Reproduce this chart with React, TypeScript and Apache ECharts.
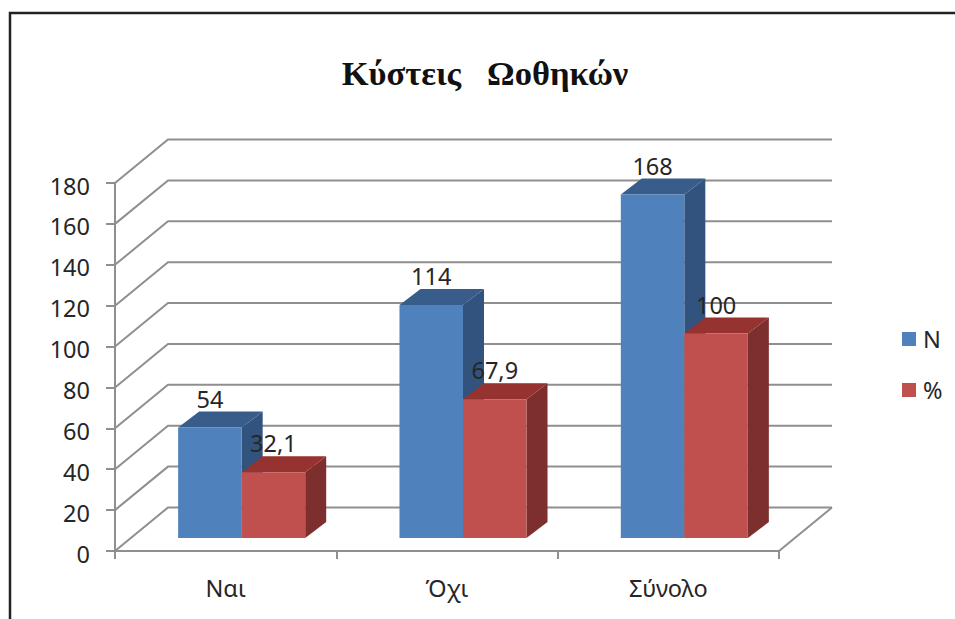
import React, { useEffect, useRef } from "react";
import * as echarts from "echarts";

const categories = ["Ναι", "Όχι", "Σύνολο"];
const nValues = [54, 114, 168];
const pctValues = [32.1, 67.9, 100];
const yTicks = [0, 20, 40, 60, 80, 100, 120, 140, 160, 180];
const seriesNames = ["N", "%"];
const titleText = "Κύστεις   Ωοθηκών";

const FONT = "'Noto Sans', sans-serif";
const TEXT = "#262626";
const GRID = "#8f8f8f";
const LABEL_SIZE = 23.5;

// oblique projection of the 3D box, in pixels
const WALL = { dx: 53, dy: -43.5 };
const PLANE = { dx: 16, dy: -13 };
const DEPTH = { dx: 21, dy: -16 };
const BAR_RATIO = 0.287;

function gridItem(params: any, api: any) {
  const cs = params.coordSys;
  const v = api.value(1);
  const y = api.coord([0, v])[1];
  const left = cs.x;
  const right = cs.x + cs.width;
  const children: any[] = [
    {
      type: "polyline",
      shape: { points: [[left, y], [left + WALL.dx, y + WALL.dy], [right + WALL.dx, y + WALL.dy]] },
      style: { stroke: GRID, fill: "none", lineWidth: 2 },
    },
  ];
  if (v === 0) {
    children.push({
      type: "line",
      shape: { x1: right, y1: y, x2: right + WALL.dx, y2: y + WALL.dy },
      style: { stroke: GRID, lineWidth: 2 },
    });
  }
  return { type: "group", children };
}

function barItem(offsetIndex: number, colors: { face: string; top: string; side: string }, fmt: (v: number) => string) {
  return (_params: any, api: any) => {
    const idx = api.value(0);
    const val = api.value(1);
    const top = api.coord([idx, val]);
    const base = api.coord([idx, 0]);
    const band = api.size([1, 0])[0];
    const w = band * BAR_RATIO;
    const x0 = top[0] + PLANE.dx + (offsetIndex === 0 ? -w : 0);
    const x1 = x0 + w;
    const yT = top[1] + PLANE.dy;
    const yB = base[1] + PLANE.dy;
    const d = DEPTH;
    return {
      type: "group",
      children: [
        {
          type: "polygon",
          shape: { points: [[x1, yT], [x1 + d.dx, yT + d.dy], [x1 + d.dx, yB + d.dy], [x1, yB]] },
          style: { fill: colors.side },
        },
        {
          type: "polygon",
          shape: { points: [[x0, yT], [x0 + d.dx, yT + d.dy], [x1 + d.dx, yT + d.dy], [x1, yT]] },
          style: { fill: colors.top },
        },
        {
          type: "rect",
          shape: { x: x0, y: yT, width: w, height: yB - yT },
          style: { fill: colors.face },
        },
        {
          type: "text",
          x: (x0 + x1) / 2,
          y: yT - 29,
          z2: 50,
          style: {
            text: fmt(val),
            fill: TEXT,
            font: `${LABEL_SIZE}px ${FONT}`,
            align: "center",
            verticalAlign: "middle",
          },
        },
      ],
    };
  };
}

const fmtValue = (v: number) => String(v).replace(".", ",");

export default function App() {
  const ref = useRef<HTMLDivElement>(null);
  useEffect(() => {
    document.body.style.margin = "0";
    document.body.style.background = "#fff";
    const chart = echarts.init(ref.current!, null, { renderer: "svg" });
    chart.setOption({
      animation: false,
      backgroundColor: "#ffffff",
      title: {
        text: titleText,
        left: 480,
        top: 50,
        textAlign: "center",
        textStyle: {
          fontFamily: "'Liberation Serif', serif",
          fontWeight: "bold",
          fontSize: 34.5,
          color: "#111",
        },
      },
      legend: {
        orient: "vertical",
        left: 897,
        top: 322,
        itemWidth: 14,
        itemHeight: 14,
        itemGap: 27,
        icon: "rect",
        data: seriesNames,
        textStyle: { fontFamily: FONT, fontSize: LABEL_SIZE, color: TEXT, padding: [0, 0, 0, 2] },
      },
      grid: { left: 115, top: 183, width: 664, height: 368, containLabel: false },
      xAxis: {
        type: "category",
        data: categories,
        axisLine: { lineStyle: { color: GRID, width: 2 } },
        axisTick: { show: true, length: 8, alignWithLabel: false, lineStyle: { color: GRID, width: 2 } },
        axisLabel: { fontFamily: FONT, fontSize: LABEL_SIZE, color: TEXT, margin: 25 },
        splitLine: { show: false },
      },
      yAxis: {
        type: "value",
        min: 0,
        max: 180,
        interval: 20,
        axisLine: { show: true, lineStyle: { color: GRID, width: 2 } },
        axisTick: { show: true, length: 9, lineStyle: { color: GRID, width: 2 } },
        axisLabel: {
          margin: 25,
          formatter: "{t|{value}}",
          rich: { t: { fontFamily: FONT, fontSize: LABEL_SIZE, color: TEXT, padding: [5, 0, 0, 0] } },
        },
        splitLine: { show: false },
      },
      series: [
        {
          type: "custom",
          name: "grid",
          silent: true,
          z: 1,
          renderItem: gridItem,
          data: yTicks.map((v) => [0, v]),
          encode: { x: 0, y: 1 },
        },
        {
          type: "custom",
          name: seriesNames[0],
          z: 3,
          itemStyle: { color: "#4f81bd" },
          renderItem: barItem(0, { face: "#4f81bd", top: "#385d8a", side: "#32537e" }, fmtValue),
          data: nValues.map((v, i) => [i, v]),
          encode: { x: 0, y: 1 },
        },
        {
          type: "custom",
          name: seriesNames[1],
          z: 4,
          itemStyle: { color: "#c0504d" },
          renderItem: barItem(1, { face: "#c0504d", top: "#96322f", side: "#7d2f2e" }, fmtValue),
          data: pctValues.map((v, i) => [i, v]),
          encode: { x: 0, y: 1 },
        },
      ],
      graphic: [
        {
          type: "polyline",
          silent: true,
          z: 10,
          shape: { points: [[10, 619], [10, 13], [955, 13]] },
          style: { stroke: "#222", fill: "none", lineWidth: 2.5 },
        },
      ],
    });
    return () => chart.dispose();
  }, []);
  return <div ref={ref} style={{ width: 955, height: 619 }} />;
}
